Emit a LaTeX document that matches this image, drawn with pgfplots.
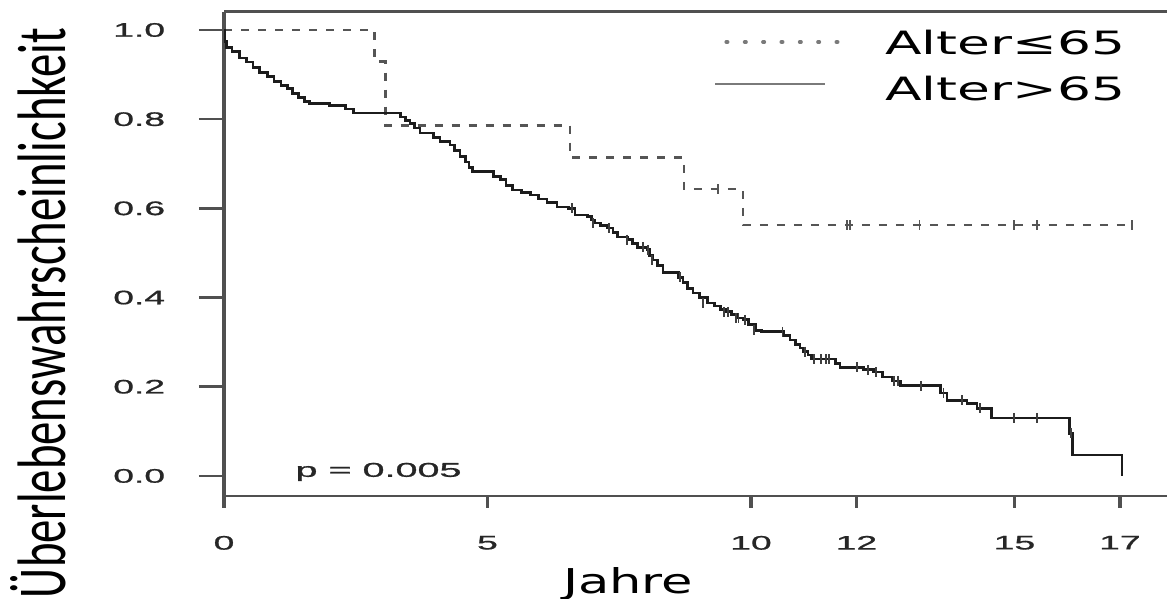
\documentclass[border=0pt]{standalone}
\usepackage{pgfplots}
\pgfplotsset{compat=1.18}
\usepackage{fontspec}
\setmainfont{Liberation Sans}
\newfontfamily\tickfont[FakeBold=0.8]{Liberation Sans}
\newfontfamily\labfont{DejaVu Sans}
\newfontfamily\ylabfont{Carlito}
\definecolor{axgray}{HTML}{505050}
\definecolor{dashcol}{HTML}{555555}
\definecolor{solidcol}{HTML}{1c1c1c}
\definecolor{leggray}{HTML}{7a7a7a}
\newcommand{\tk}[1]{\scalebox{1.9}[1]{\tickfont\fontsize{9.8pt}{11pt}\selectfont #1}}
\begin{document}
\begin{tikzpicture}
\useasboundingbox (0,0) rectangle (583.5pt,299.5pt);
\begin{axis}[
  at={(112pt,51.5pt)}, anchor=south west,
  scale only axis, width=474.3pt, height=242.15pt,
  xmin=0, xmax=18, ymin=-0.045, ymax=1.041,
  separate axis lines,
  x axis line style={axgray, line width=1.35pt},
  y axis line style={axgray, line width=1.75pt},
  xtick={0,5,10,12,15,17},
  xticklabels={\tk{0},\tk{5},\tk{10},\tk{12},\tk{15},\tk{17}},
  ytick={0,0.2,0.4,0.6,0.8,1},
  yticklabels={\tk{0.0},\tk{0.2},\tk{0.4},\tk{0.6},\tk{0.8},\tk{1.0}},
  tick align=outside, xtick pos=bottom, ytick pos=left,
  minor tick num=0,
  xtick style={axgray, line width=1.6pt, /pgfplots/major tick length=6pt},
  ytick style={axgray, line width=1.3pt, /pgfplots/major tick length=12.5pt},
  xticklabel style={anchor=north, inner sep=0pt, text=black!85, yshift=-15.5pt},
  yticklabel style={anchor=east, inner sep=0pt, text=black!85, xshift=-25pt},
  xlabel={\resizebox{65pt}{13pt}{\labfont Jahre}},
  xlabel style={at={(rel axis cs:0.4259,-0.2003)}, anchor=base, inner sep=0pt},
  ylabel={\resizebox{285pt}{27.5pt}{\ylabfont Überlebenswahrscheinlichkeit}},
  ylabel style={at={(rel axis cs:-0.1676,0.3779)}, anchor=base, inner sep=0pt},
  clip=false,
]
% Alter <= 65 (dashed)
\addplot[const plot, dashcol, line width=1.25pt, dash pattern=on 4pt off 4.5pt] coordinates {
(0,1.0) (2.86,0.929) (3.06,0.786) (6.57,0.714) (8.73,0.643) (9.85,0.5625) (17.23,0.5625)
};
\addplot[only marks, mark=|, mark size=2.5pt, dashcol, mark options={line width=0.8pt, solid}] coordinates {
(9.37,0.643) (11.82,0.5625) (11.88,0.5625) (13.2,0.5625) (14.99,0.5625) (15.43,0.5625) (17.23,0.5625)
};
% Alter > 65 (solid)
\addplot[const plot, solidcol, line width=1.4pt] coordinates {
(0,1.0) (0.02,0.975) (0.04,0.96) (0.15,0.952) (0.3,0.937) (0.42,0.928) (0.55,0.915)
(0.68,0.904) (0.82,0.895) (0.95,0.885) (1.08,0.876) (1.2,0.868) (1.3,0.858) (1.42,0.848)
(1.52,0.840) (1.62,0.836) (2.0,0.830) (2.3,0.823) (2.45,0.814) (3.35,0.805) (3.45,0.797)
(3.53,0.790) (3.62,0.780) (3.72,0.769) (3.97,0.758) (4.1,0.750) (4.29,0.742) (4.38,0.730)
(4.48,0.716) (4.58,0.704) (4.65,0.692) (4.72,0.682) (5.12,0.672) (5.24,0.664) (5.35,0.652)
(5.48,0.641) (5.65,0.635) (5.81,0.630) (5.97,0.621) (6.13,0.614) (6.32,0.603) (6.53,0.600)
(6.66,0.585) (6.89,0.581) (6.97,0.574) (7.04,0.567) (7.15,0.561) (7.27,0.556) (7.38,0.546)
(7.46,0.536) (7.65,0.530) (7.75,0.522) (7.84,0.513) (8.03,0.507) (8.08,0.495) (8.14,0.484)
(8.22,0.472) (8.33,0.457) (8.63,0.445) (8.71,0.433) (8.8,0.421) (8.9,0.410) (9.03,0.400)
(9.17,0.388) (9.3,0.381) (9.42,0.374) (9.54,0.368) (9.63,0.362) (9.73,0.354) (9.85,0.350)
(9.95,0.340) (10.08,0.327) (10.2,0.323) (10.62,0.315) (10.74,0.305) (10.85,0.295)
(10.93,0.287) (11.0,0.279) (11.08,0.271) (11.15,0.262) (11.6,0.252) (11.69,0.244)
(12.13,0.238) (12.32,0.233) (12.5,0.222) (12.69,0.213) (12.83,0.202) (13.6,0.186)
(13.72,0.170) (14.1,0.163) (14.29,0.152) (14.57,0.130) (16.05,0.096) (16.1,0.047) (17.04,0.0)
};
\addplot[only marks, mark=|, mark size=2.5pt, solidcol!85, mark options={line width=0.8pt}] coordinates {
(6.6,0.600) (7.0,0.567) (7.3,0.556) (7.65,0.530) (7.95,0.513) (8.05,0.507) (8.12,0.484)
(8.65,0.445) (9.09,0.388) (9.49,0.368) (9.56,0.368) (9.72,0.354) (9.76,0.354) (9.89,0.350)
(10.06,0.327) (10.6,0.323) (11.02,0.279) (11.2,0.262) (11.33,0.262) (11.42,0.262)
(11.48,0.262) (12.01,0.244) (12.22,0.238) (12.37,0.233) (12.71,0.213) (12.79,0.213)
(13.23,0.202) (13.65,0.186) (14.0,0.170) (14.35,0.152) (14.99,0.130) (15.43,0.130) (16.07,0.096)
};
\node[anchor=base west, inner sep=0pt, text=black!85] at (axis cs:1.35,-0.002) {\resizebox{83pt}{7pt}{\tickfont p = 0.005}};
\end{axis}
% legend
\draw[leggray, line width=1.75pt, line cap=round, dash pattern=on 0.75pt off 8.42pt] (363.1pt,278.5pt) -- (419pt,278.5pt);
\draw[leggray, line width=1.3pt] (357.5pt,257.5pt) -- (412.5pt,257.5pt);
\node[anchor=base west, inner sep=0pt] at (442.5pt,272pt) {\resizebox{120pt}{12.2pt}{\labfont Alter≤65}};
\node[anchor=base west, inner sep=0pt] at (442.5pt,249pt) {\resizebox{120pt}{12.2pt}{\labfont Alter>65}};
\end{tikzpicture}
\end{document}
